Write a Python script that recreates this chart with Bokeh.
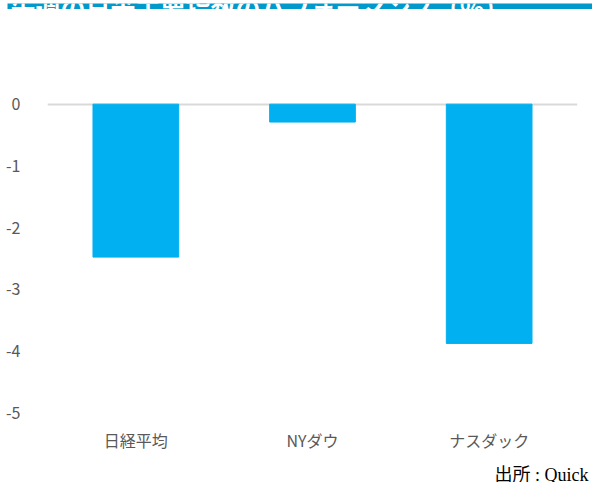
from bokeh.plotting import figure
from bokeh.layouts import column
from bokeh.models import Range1d, FixedTicker, BoxAnnotation, CustomJSTickFormatter
from bokeh.core.properties import value
from bokeh.embed import file_html
from bokeh.resources import INLINE

categories = ["日経平均", "NYダウ", "ナスダック"]
values = [-2.48, -0.29, -3.88]
y_ticks = [-5, -4, -3, -2, -1, 0]
title_text = "先週の日米主要指数のパフォーマンス（%）"
source_text = "出所 : Quick"

FONT = "Noto Sans CJK JP"
W = 592

# ---- banner (clipped title bar) ----
bn = figure(width=W, height=9, x_range=Range1d(7, W), y_range=Range1d(0, 9),
            output_backend="svg", toolbar_location=None, frame_align=False,
            min_border_left=7, min_border_right=0, min_border_top=0, min_border_bottom=0)
bn.axis.visible = False
bn.grid.visible = False
bn.outline_line_color = None
bn.background_fill_color = "#0099CC"
bn.border_fill_color = "white"
bn.text(x=[10], y=[5.4], text=[title_text], text_font=value(FONT), text_font_size="25px",
        text_font_style="bold", text_color="white", text_baseline="alphabetic")
bn.add_layout(BoxAnnotation(bottom=0.6, top=1.7, fill_color="#8c8c8c", fill_alpha=1,
                            line_color=None, level="overlay"))
bn.add_layout(BoxAnnotation(bottom=0, top=0.6, fill_color="white", fill_alpha=1,
                            line_color=None, level="overlay"))

# ---- main chart ----
p = figure(x_range=categories, y_range=Range1d(-5, 1), width=W, height=447,
           output_backend="svg", toolbar_location=None, frame_align=False,
           min_border_left=47, min_border_right=15, min_border_top=33, min_border_bottom=44)
p.outline_line_color = None
p.background_fill_color = "white"
p.border_fill_color = "white"

p.vbar(x=categories, top=0, bottom=values, width=0.485, color="#00B0F0")

p.xgrid.visible = False
p.ygrid.ticker = FixedTicker(ticks=[0])
p.ygrid.grid_line_color = "#d9d9d9"
p.ygrid.grid_line_width = 2
p.ygrid.level = "underlay"

p.yaxis.ticker = FixedTicker(ticks=y_ticks)
p.yaxis.formatter = CustomJSTickFormatter(code="return tick.toFixed(0);")
for ax in (p.xaxis[0], p.yaxis[0]):
    ax.axis_line_color = None
    ax.major_tick_line_color = None
    ax.minor_tick_line_color = None
    ax.major_label_text_font = FONT
    ax.major_label_text_font_size = "16px"
    ax.major_label_text_color = "#595959"
p.yaxis.major_label_standoff = 21
p.xaxis.major_label_standoff = 9

# ---- source line ----
sf = figure(width=W, height=26, x_range=Range1d(0, W), y_range=Range1d(0, 26),
            output_backend="svg", toolbar_location=None, frame_align=False,
            min_border_left=0, min_border_right=0, min_border_top=0, min_border_bottom=0)
sf.axis.visible = False
sf.grid.visible = False
sf.outline_line_color = None
sf.background_fill_color = "white"
sf.border_fill_color = "white"
sf.text(x=[588], y=[8], text=[source_text],
        text_font=value("Liberation Serif, Noto Sans CJK JP"),
        text_font_size="18px", text_color="black", text_align="right",
        text_baseline="alphabetic")

layout = column(bn, p, sf, spacing=0)
open("out.html", "w").write(file_html(layout, INLINE))
